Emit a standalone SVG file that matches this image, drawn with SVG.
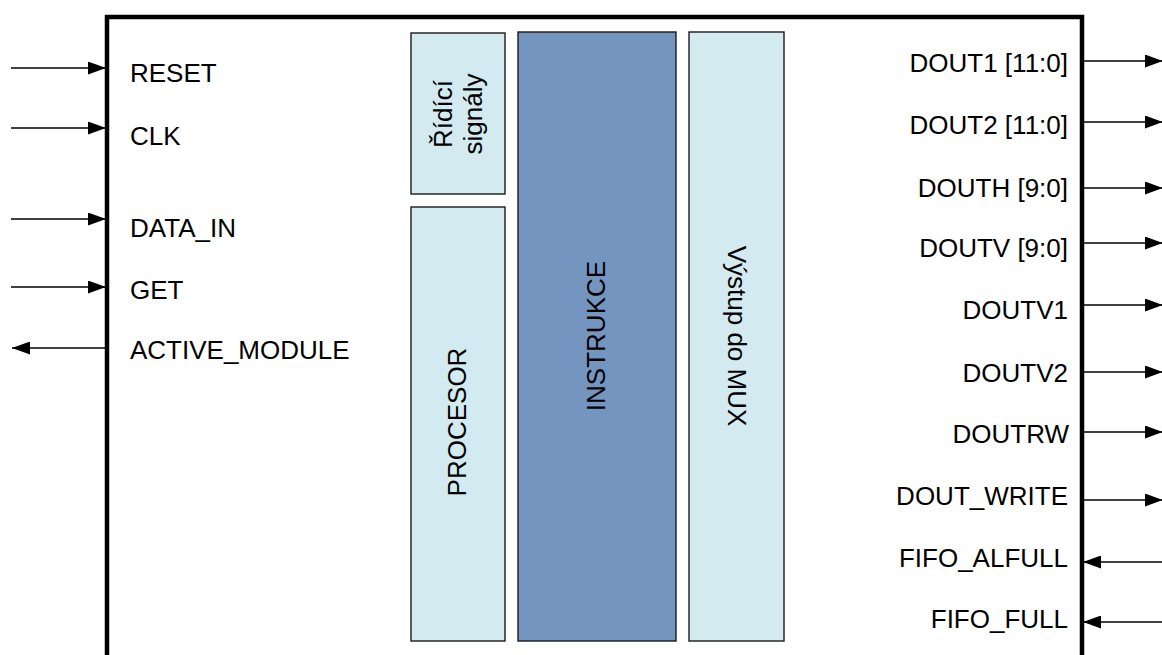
<svg xmlns="http://www.w3.org/2000/svg" width="1162" height="655" viewBox="0 0 1162 655">
  <style>
    .lbl { font-family: "Liberation Sans", Arial, sans-serif; font-size: 26px; fill: #000; }
    .end { text-anchor: end; }
    .mid { text-anchor: middle; }
    .box { stroke: #1a1a1a; stroke-width: 1.4; }
    .light { fill: #d2eaf0; }
    .dark { fill: #7495c0; }
    .wire { stroke: #000; stroke-width: 1.5; fill: none; marker-end: url(#head); }
  </style>
  <defs>
    <marker id="head" markerUnits="userSpaceOnUse" markerWidth="18" markerHeight="13" refX="18" refY="6.5" orient="auto">
      <path d="M0,0 L18,6.5 L0,13 Z" fill="#000"/>
    </marker>
  </defs>

  <rect width="1162" height="655" fill="#fff"/>

  <!-- module outline (continues below the view) -->
  <g id="module">
    <path d="M107,700 V17 H1082 V700" fill="none" stroke="#000" stroke-width="4.5"/>
  </g>

  <!-- internal blocks -->
  <g id="ridici">
    <rect class="box light" x="411" y="33" width="94" height="161"/>
    <text class="lbl mid" transform="translate(452,114) rotate(-90)">Řídící</text>
    <text class="lbl mid" transform="translate(482,114) rotate(-90)">signály</text>
  </g>
  <g id="procesor">
    <rect class="box light" x="411" y="207" width="94" height="434"/>
    <text class="lbl mid" transform="translate(466,422) rotate(-90)">PROCESOR</text>
  </g>
  <g id="instrukce">
    <rect class="box dark" x="518" y="32" width="158" height="609"/>
    <text class="lbl mid" transform="translate(605,336) rotate(-90)">INSTRUKCE</text>
  </g>
  <g id="vystup">
    <rect class="box light" x="689" y="32" width="95" height="609"/>
    <text class="lbl mid" transform="translate(728,336) rotate(90)">Výstup do MUX</text>
  </g>

  <!-- port names -->
  <g id="ports-left">
    <text class="lbl" x="130" y="82">RESET</text>
    <text class="lbl" x="130" y="145">CLK</text>
    <text class="lbl" x="130" y="237">DATA_IN</text>
    <text class="lbl" x="130" y="299">GET</text>
    <text class="lbl" x="130" y="359">ACTIVE_MODULE</text>
  </g>
  <g id="ports-right">
    <text class="lbl end" x="1068" y="72">DOUT1 [11:0]</text>
    <text class="lbl end" x="1068" y="134">DOUT2 [11:0]</text>
    <text class="lbl end" x="1068" y="197">DOUTH [9:0]</text>
    <text class="lbl end" x="1068" y="257">DOUTV [9:0]</text>
    <text class="lbl end" x="1068" y="319">DOUTV1</text>
    <text class="lbl end" x="1068" y="382">DOUTV2</text>
    <text class="lbl end" x="1069" y="443">DOUTRW</text>
    <text class="lbl end" x="1068" y="505">DOUT_WRITE</text>
    <text class="lbl end" x="1068" y="567">FIFO_ALFULL</text>
    <text class="lbl end" x="1068" y="628">FIFO_FULL</text>
  </g>

  <!-- signal connectors -->
  <g id="connectors">
    <line class="wire" x1="11" y1="68" x2="106" y2="68"/>
    <line class="wire" x1="11" y1="128" x2="106" y2="128"/>
    <line class="wire" x1="11" y1="219" x2="106" y2="219"/>
    <line class="wire" x1="11" y1="287" x2="106" y2="287"/>
    <line class="wire" x1="107" y1="348" x2="12" y2="348"/>

    <line class="wire" x1="1082" y1="61" x2="1163" y2="61"/>
    <line class="wire" x1="1082" y1="122" x2="1163" y2="122"/>
    <line class="wire" x1="1082" y1="188" x2="1163" y2="188"/>
    <line class="wire" x1="1082" y1="243" x2="1163" y2="243"/>
    <line class="wire" x1="1082" y1="305" x2="1163" y2="305"/>
    <line class="wire" x1="1082" y1="372" x2="1163" y2="372"/>
    <line class="wire" x1="1082" y1="432" x2="1163" y2="432"/>
    <line class="wire" x1="1082" y1="500" x2="1163" y2="500"/>
    <line class="wire" x1="1162" y1="562" x2="1083" y2="562"/>
    <line class="wire" x1="1162" y1="622" x2="1083" y2="622"/>
  </g>
</svg>
